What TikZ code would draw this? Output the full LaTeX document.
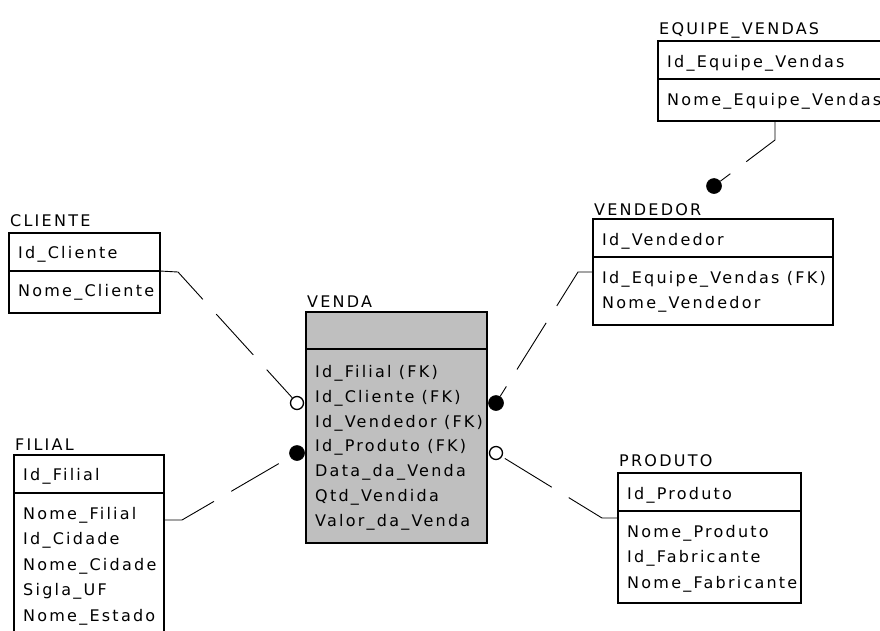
\documentclass[tikz,border=0pt]{standalone}
\usepackage{fontspec}
\usetikzlibrary{calc}
\newfontfamily\erfont{DejaVu Sans}[LetterSpace=14]

\tikzset{
  erbox/.style={draw=black, line width=1.2pt, inner sep=0pt, outer sep=0pt,
                fill=white, anchor=north west},
  grayfill/.style={fill=black!25},
  etitle/.style={anchor=base west, inner sep=0pt, font=\erfont\fontsize{16}{19}\selectfont},
  field/.style={anchor=base west, inner sep=0pt, font=\erfont\fontsize{16}{19}\selectfont},
  rel/.style={draw=black, line width=0.9pt, dash pattern=on 55pt off 20pt},
  optend/.style={circle, draw=black, line width=1.3pt, fill=white,
                 minimum size=13pt, inner sep=0pt},
  manyend/.style={circle, draw=black, fill=black, line width=0.6pt,
                  minimum size=15pt, inner sep=0pt}
}

\begin{document}
\begin{tikzpicture}[x=1pt, y=-1pt]
\useasboundingbox (0,0) rectangle (880,630);
\fill[white] (0,0) rectangle (880,630);
\clip (0,0) rectangle (880,630);

% ---------- CLIENTE ----------
\node[etitle] (cli-t) at (10,226) {CLIENTE};
\node[erbox, minimum width=151pt, minimum height=38pt] (cli-k) at (9,233) {};
\node[erbox, minimum width=151pt, minimum height=42pt] (cli-a) at (cli-k.south west) {};
\node[field] (cli-r1) at (18,258) {Id\_Cliente};
\node[field] (cli-r2) at (18,296) {Nome\_Cliente};

% ---------- VENDA ----------
\node[etitle] (ven-t) at (307,307) {VENDA};
\node[erbox, grayfill, minimum width=181pt, minimum height=37pt] (ven-k) at (306,312) {};
\node[erbox, grayfill, minimum width=181pt, minimum height=194pt] (ven-a) at (ven-k.south west) {};
\node[field] (ven-r1) at (315,377) {Id\_Filial (FK)};
\node[field] (ven-r2) at (315,402) {Id\_Cliente (FK)};
\node[field] (ven-r3) at (315,427) {Id\_Vendedor (FK)};
\node[field] (ven-r4) at (315,451) {Id\_Produto (FK)};
\node[field] (ven-r5) at (315,476) {Data\_da\_Venda};
\node[field] (ven-r6) at (315,501) {Qtd\_Vendida};
\node[field] (ven-r7) at (315,526) {Valor\_da\_Venda};

% ---------- FILIAL ----------
\node[etitle] (fil-t) at (15,450) {FILIAL};
\node[erbox, minimum width=150pt, minimum height=38pt] (fil-k) at (14,455) {};
\node[erbox, minimum width=150pt, minimum height=160pt] (fil-a) at (fil-k.south west) {};
\node[field] (fil-r1) at (23,480) {Id\_Filial};
\node[field] (fil-r2) at (23,519) {Nome\_Filial};
\node[field] (fil-r3) at (23,544.5) {Id\_Cidade};
\node[field] (fil-r4) at (23,570) {Nome\_Cidade};
\node[field] (fil-r5) at (23,595.5) {Sigla\_UF};
\node[field] (fil-r6) at (23,621) {Nome\_Estado};

% ---------- PRODUTO ----------
\node[etitle] (pro-t) at (619,466) {PRODUTO};
\node[erbox, minimum width=183pt, minimum height=38pt] (pro-k) at (618,473) {};
\node[erbox, minimum width=183pt, minimum height=92pt] (pro-a) at (pro-k.south west) {};
\node[field] (pro-r1) at (627,499) {Id\_Produto};
\node[field] (pro-r2) at (627,537) {Nome\_Produto};
\node[field] (pro-r3) at (627,562.5) {Id\_Fabricante};
\node[field] (pro-r4) at (627,588) {Nome\_Fabricante};

% ---------- VENDEDOR ----------
\node[etitle] (vdd-t) at (594,215) {VENDEDOR};
\node[erbox, minimum width=240pt, minimum height=38pt] (vdd-k) at (593,219) {};
\node[erbox, minimum width=240pt, minimum height=68pt] (vdd-a) at (vdd-k.south west) {};
\node[field] (vdd-r1) at (602,245) {Id\_Vendedor};
\node[field] (vdd-r2) at (602,283) {Id\_Equipe\_Vendas (FK)};
\node[field] (vdd-r3) at (602,308) {Nome\_Vendedor};

% ---------- EQUIPE_VENDAS ----------
\node[etitle] (eqp-t) at (659,34) {EQUIPE\_VENDAS};
\node[erbox, minimum width=260pt, minimum height=38pt] (eqp-k) at (658,41) {};
\node[erbox, minimum width=260pt, minimum height=42pt] (eqp-a) at (eqp-k.south west) {};
\node[field] (eqp-r1) at (667,67) {Id\_Equipe\_Vendas};
\node[field] (eqp-r2) at (667,105) {Nome\_Equipe\_Vendas};

% ---------- relationship ends ----------
\node[optend]  (end-cli) at (297,403) {};
\node[manyend] (end-fil) at (297,453) {};
\node[manyend] (end-vdd) at (496,403) {};
\node[optend]  (end-pro) at (496,453) {};
\node[manyend] (end-eqp) at (714,186) {};

% ---------- relationships ----------
\draw[rel] (cli-k.south east) -- ++(18,1) -- (end-cli);
\draw[rel] ($(fil-a.north east)+(0,27)$) -- ++(18,0) -- (end-fil);
\draw[rel] ($(vdd-a.north west)+(0,15)$) -- ++(-15,0) -- (end-vdd);
\draw[rel] ($(pro-a.north west)+(0,7)$) -- ++(-16,0) -- (end-pro);
\draw[rel] ($(eqp-a.south west)+(117,0)$) -- ++(0,19) -- (end-eqp);
\end{tikzpicture}
\end{document}
